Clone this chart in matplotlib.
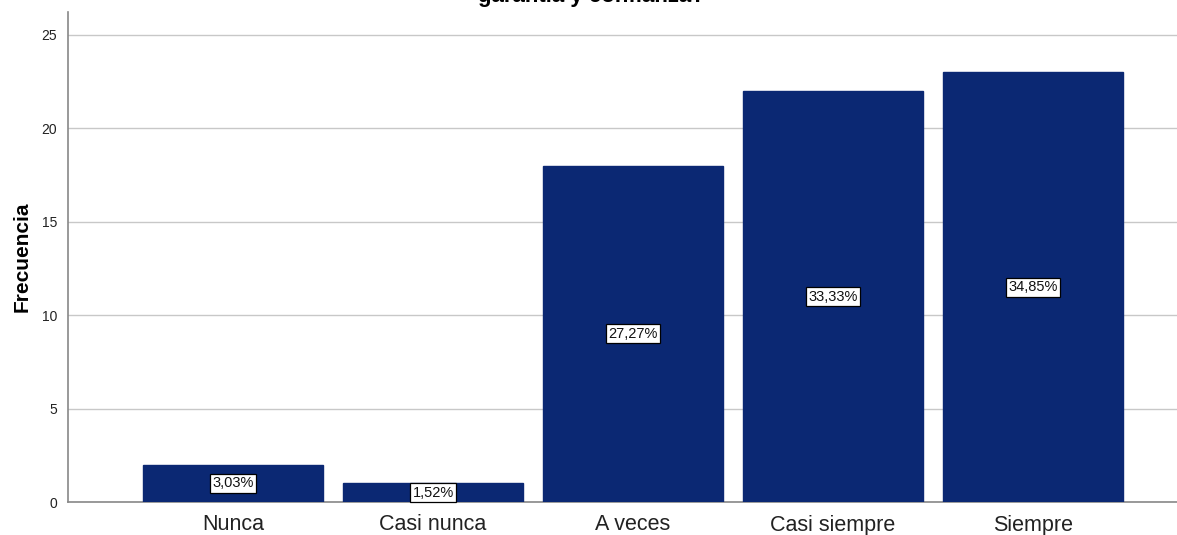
import numpy as np
import matplotlib.pyplot as plt

plt.rcParams['font.family'] = ['Liberation Sans', 'DejaVu Sans']

# frecuencias por categoría
categorias = ['Nunca', 'Casi nunca', 'A veces', 'Casi siempre', 'Siempre']
frecuencias = [2, 1, 18, 22, 23]
total = sum(frecuencias)

fig = plt.figure(figsize=(11.77, 5.35), dpi=100)
ax = fig.add_axes([68/1177, 33/535, (1177-68)/1177, (502-12)/535])

x = np.arange(len(categorias))
ax.bar(x, frecuencias, width=0.9, color='#0b2873', edgecolor='#0b2873', zorder=3)

# porcentaje dentro de cada barra
for xi, f in zip(x, frecuencias):
    pct = f'{100*f/total:.2f}%'.replace('.', ',')
    ax.text(xi, f/2, pct, ha='center', va='center', fontsize=10.5, zorder=4,
            color='#111111',
            bbox=dict(boxstyle='square,pad=0.18', fc='white', ec='black', lw=0.9))

ax.set_xlim(-0.825, 4.72)
ax.set_ylim(0, 26.23)
ax.set_yticks([0, 5, 10, 15, 20, 25])
ax.set_xticks(x)
ax.set_xticklabels(categorias, fontsize=15.5, color='#222222')
ax.tick_params(axis='y', labelsize=10, length=0, pad=8, colors='#222222')
ax.tick_params(axis='x', length=0, pad=9)
ax.grid(axis='y', color='#c8c8c8', lw=1, zorder=0)
for s in ['top', 'right']:
    ax.spines[s].set_visible(False)
for s in ['left', 'bottom']:
    ax.spines[s].set_color('#888888')
    ax.spines[s].set_linewidth(1.2)
ax.set_ylabel('Frecuencia', fontsize=15, fontweight='bold', labelpad=7)

fig.text(591/1177, 1 - 2/535, 'garantía y confianza?', ha='center', va='baseline',
         fontsize=16, fontweight='bold')

fig.savefig('out.png', dpi=100)
